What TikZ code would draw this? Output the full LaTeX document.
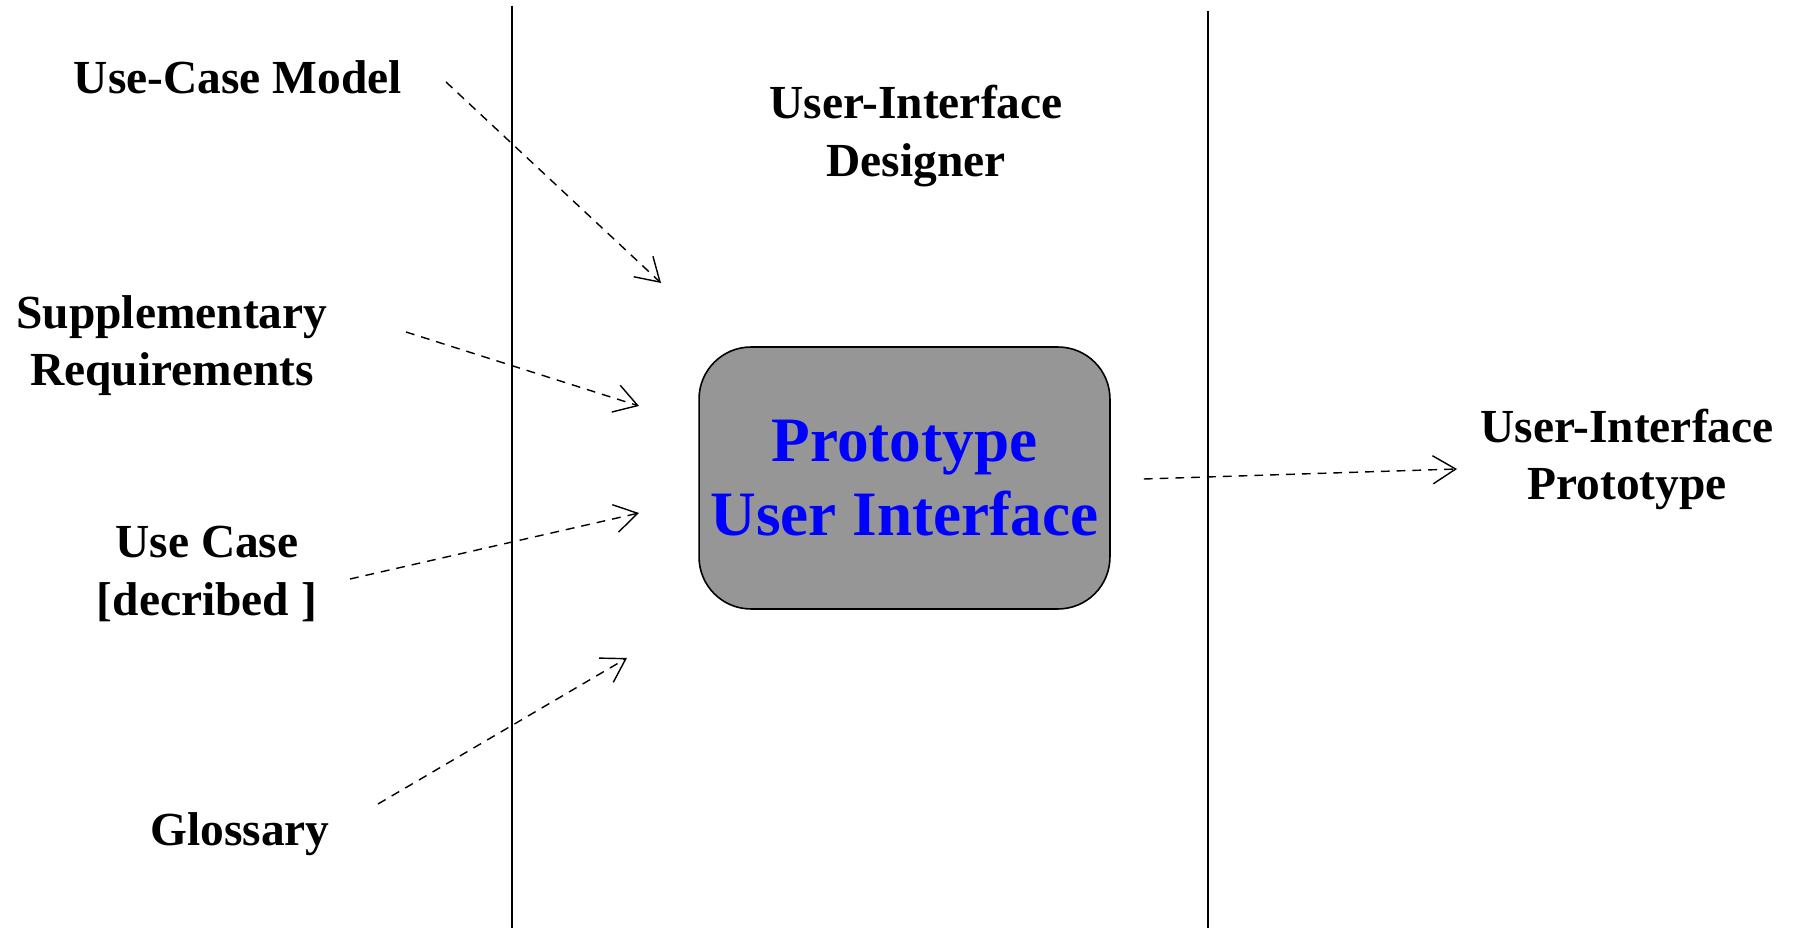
\documentclass[tikz,border=0pt]{standalone}
\usepackage{fontspec}
\setmainfont{Liberation Serif}
\usepackage{tikz}
\usetikzlibrary{arrows.meta, positioning, calc}
\definecolor{boxgray}{RGB}{150, 150, 150}
\definecolor{protoblue}{RGB}{0, 0, 255}

\begin{document}
\begin{tikzpicture}[
    x=0.02cm, y=-0.02cm,
    lbl/.style={font=\fontsize{27}{32.5}\selectfont\bfseries, align=center, inner sep=0pt},
    activity/.style={draw, line width=0.9pt, fill=boxgray, rounded corners=1.04cm,
      minimum width=8.22cm, minimum height=5.24cm, align=center, text=protoblue,
      font=\fontsize{36}{42}\selectfont\bfseries},
    flow/.style={line width=0.8pt, dash pattern=on 5pt off 4pt, -{Straight Barb[length=13pt, width=16pt]}},
    lane/.style={line width=1.1pt}
  ]
  \useasboundingbox (0,0) rectangle (1795,928);

  % Swimlane borders
  \draw[lane] (512,6) -- (512,928);
  \draw[lane] (1208,11) -- (1208,928);

  % Worker and activity
  \node[lbl] (designer) at (916,136) {User-Interface\\Designer};
  \node[activity] (proto) at (904.5,478) {Prototype\\User Interface};

  % Input artifacts
  \node[lbl] (ucm) at (238,77) {Use-Case Model};
  \node[lbl] (supp) at (172,346) {Supplementary\\Requirements};
  \node[lbl] (uc) at (207,574) {Use Case\\{[}decribed ]};
  \node[lbl] (gloss) at (240,834) {Glossary};

  % Output artifact
  \node[lbl] (uip) at (1627,459) {User-Interface\\Prototype};

  % Connector ends
  \coordinate (ucm-out) at (446,82);
  \coordinate (ucm-in) at (661,283);
  \coordinate (supp-out) at (406,332);
  \coordinate (supp-in) at (639,406);
  \coordinate (uc-out) at (350,579);
  \coordinate (uc-in) at (639,513);
  \coordinate (gloss-out) at (378,804);
  \coordinate (gloss-in) at (627,658);
  \coordinate (proto-out) at ($(proto.east)+(33,1)$);
  \coordinate (uip-in) at ($(uip.west)+(-23,10)$);

  \draw[flow] (ucm-out) -- (ucm-in);
  \draw[flow] (supp-out) -- (supp-in);
  \draw[flow] (uc-out) -- (uc-in);
  \draw[flow] (gloss-out) -- (gloss-in);
  \draw[flow] (proto-out) -- (uip-in);
\end{tikzpicture}
\end{document}
